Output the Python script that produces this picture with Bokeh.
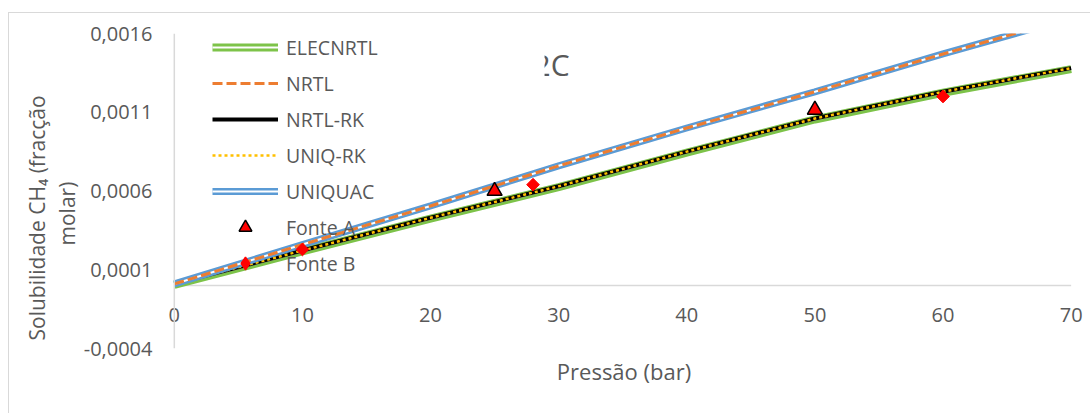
import numpy as np
from bokeh.plotting import figure
from bokeh.models import (Range1d, FixedTicker, CustomJSTickFormatter, Legend,
                          LegendItem, Label, BoxAnnotation, ColumnDataSource, Span, Title)
from bokeh.core.properties import value
from bokeh.embed import file_html
from bokeh.resources import INLINE

# ---------------- data ----------------
pressure = [0, 10, 20, 30, 40, 50, 60, 70]
elecnrtl = [0.000004, 0.000216, 0.000424, 0.000624, 0.000844, 0.001054, 0.001224, 0.001374]
nrtl = [0.00001, 0.00026, 0.000505, 0.00076, 0.001, 0.00123, 0.00147, 0.0017]
nrtl_rk = [0.00001, 0.000222, 0.00043, 0.00063, 0.00085, 0.00106, 0.00123, 0.00138]
uniq_rk = [0.00001, 0.000222, 0.00043, 0.00063, 0.00085, 0.00106, 0.00123, 0.00138]
uniquac = [0.00001, 0.00026, 0.000505, 0.00076, 0.001, 0.00123, 0.00147, 0.0017]

fonte_a_p = [25, 50]
fonte_a_x = [0.0006, 0.001115]
fonte_b_p = [10, 28, 60]
fonte_b_x = [0.000229, 0.00064, 0.0012]

x_ticks = [0, 10, 20, 30, 40, 50, 60, 70]
x_tick_labels = [str(t) for t in x_ticks]
y_ticks = [-0.0004, 0.0001, 0.0006, 0.0011, 0.0016]
series_names = ["ELECNRTL", "NRTL", "NRTL-RK", "UNIQ-RK", "UNIQUAC", "Fonte A", "Fonte B"]
title_text = "2C"
x_label = "Pressão (bar)"
y_label_lines = ["Solubilidade CH\u2084 (fracção", "molar)"]

FONT = "Open Sans"
TXT = "#595959"
AXIS = "#D9D9D9"

p = figure(width=1082, height=401, output_backend="svg", toolbar_location=None,
           x_range=Range1d(-1, 71.2), y_range=Range1d(-0.0004, 0.0016),
           x_axis_location=None,
           min_border_left=152, min_border_right=5, min_border_top=20,
           min_border_bottom=66)
p.margin = (12, 0, 0, 8)
p.styles = {"border-top": "1px solid #D9D9D9", "border-left": "1px solid #D9D9D9"}
p.outline_line_color = None
p.grid.visible = False
p.background_fill_color = "white"
p.border_fill_color = "white"

ya = p.yaxis[0]
ya.ticker = FixedTicker(ticks=y_ticks)
ya.formatter = CustomJSTickFormatter(code="return tick.toFixed(4).replace('.', ',');")
ya.axis_line_color = None
ya.major_tick_line_color = None
ya.minor_tick_line_color = None
ya.major_label_standoff = 3
ya.major_label_text_font = FONT
ya.major_label_text_font_size = "20px"
ya.major_label_text_color = TXT

# axis lines crossing at the origin
p.add_layout(Span(location=0, dimension="height", line_color=AXIS, line_width=1.5))
p.segment(x0=[x_ticks[0]], y0=[0], x1=[x_ticks[-1]], y1=[0], line_color=AXIS, line_width=1.5)
# x tick labels just below the horizontal axis
tick_src = ColumnDataSource(dict(x=x_ticks, y=[0] * len(x_ticks), t=x_tick_labels))
p.text(x="x", y="y", text="t", source=tick_src, y_offset=29, text_align="center",
       text_baseline="middle", text_font=value(FONT), text_font_size="20px",
       text_color=TXT)

src = ColumnDataSource(dict(p=pressure, el=elecnrtl, nr=nrtl, nrk=nrtl_rk,
                            urk=uniq_rk, uq=uniquac))
srcA = ColumnDataSource(dict(p=fonte_a_p, x=fonte_a_x))
srcB = ColumnDataSource(dict(p=fonte_b_p, x=fonte_b_x))

# lower group
r_el_g = p.line("p", "el", source=src, line_color="#7DC349", line_width=8)
r_el_w = p.line("p", "el", source=src, line_color="white", line_width=2)
r_nrk = p.line("p", "nrk", source=src, line_color="black", line_width=4)
r_urk = p.line("p", "urk", source=src, line_color="#FFC000", line_width=2.5, line_dash="3 3")
# upper group
r_uq_b = p.line("p", "uq", source=src, line_color="#5B9BD5", line_width=7)
r_uq_w = p.line("p", "uq", source=src, line_color="white", line_width=2)
r_nr = p.line("p", "nr", source=src, line_color="#ED7D31", line_width=3, line_dash="10 4")
# markers
r_a = p.scatter("p", "x", source=srcA, marker="triangle", size=15,
                fill_color="#FF0000", line_color="black", line_width=1.5)
r_b = p.scatter("p", "x", source=srcB, marker="square", angle=np.pi / 4, size=9,
                fill_color="#FF0000", line_color="#FF0000", line_width=1)
# legend-only glyph for Fonte B (same data, hidden in the plot)
r_b_leg = p.scatter("p", "x", source=srcB, marker="diamond", size=13,
                    fill_color="#FF0000", line_color="#FF0000", line_width=1.5,
                    visible=False)

legend = Legend(items=[
    LegendItem(label=series_names[0], renderers=[r_el_g, r_el_w]),
    LegendItem(label=series_names[1], renderers=[r_nr]),
    LegendItem(label=series_names[2], renderers=[r_nrk]),
    LegendItem(label=series_names[3], renderers=[r_urk]),
    LegendItem(label=series_names[4], renderers=[r_uq_b, r_uq_w]),
    LegendItem(label=series_names[5], renderers=[r_a]),
    LegendItem(label=series_names[6], renderers=[r_b_leg]),
], location=(51, 69), glyph_width=66, glyph_height=32, label_height=20,
    spacing=4, padding=0, margin=0, border_line_color=None,
    background_fill_alpha=0, inactive_fill_alpha=0, label_standoff=8,
    label_text_font=FONT, label_text_font_size="19.5px", label_text_color=TXT)
p.add_layout(legend, "center")

# partially hidden chart title
p.add_layout(Label(x=28.04, y=0.001403, text=title_text,
                   text_font=FONT, text_font_size="30px", text_color=TXT,
                   text_align="left", text_baseline="middle"))
p.add_layout(BoxAnnotation(left=22, right=28.9, top=0.0018, bottom=0.00124,
                           fill_color="white", fill_alpha=1, line_color=None))

# axis titles
p.add_layout(Title(text=y_label_lines[1], align="left", offset=103,
                   text_font=FONT, text_font_size="21px", text_color=TXT,
                   text_font_style="normal", standoff=0), "left")
p.add_layout(Title(text=y_label_lines[0], align="left", offset=8,
                   text_font=FONT, text_font_size="21px", text_color=TXT,
                   text_font_style="normal", standoff=0), "left")
p.add_layout(Title(text=x_label, align="center",
                   text_font=FONT, text_font_size="22px", text_color=TXT,
                   text_font_style="normal", standoff=10), "below")

open("out.html", "w").write(file_html(p, INLINE))
